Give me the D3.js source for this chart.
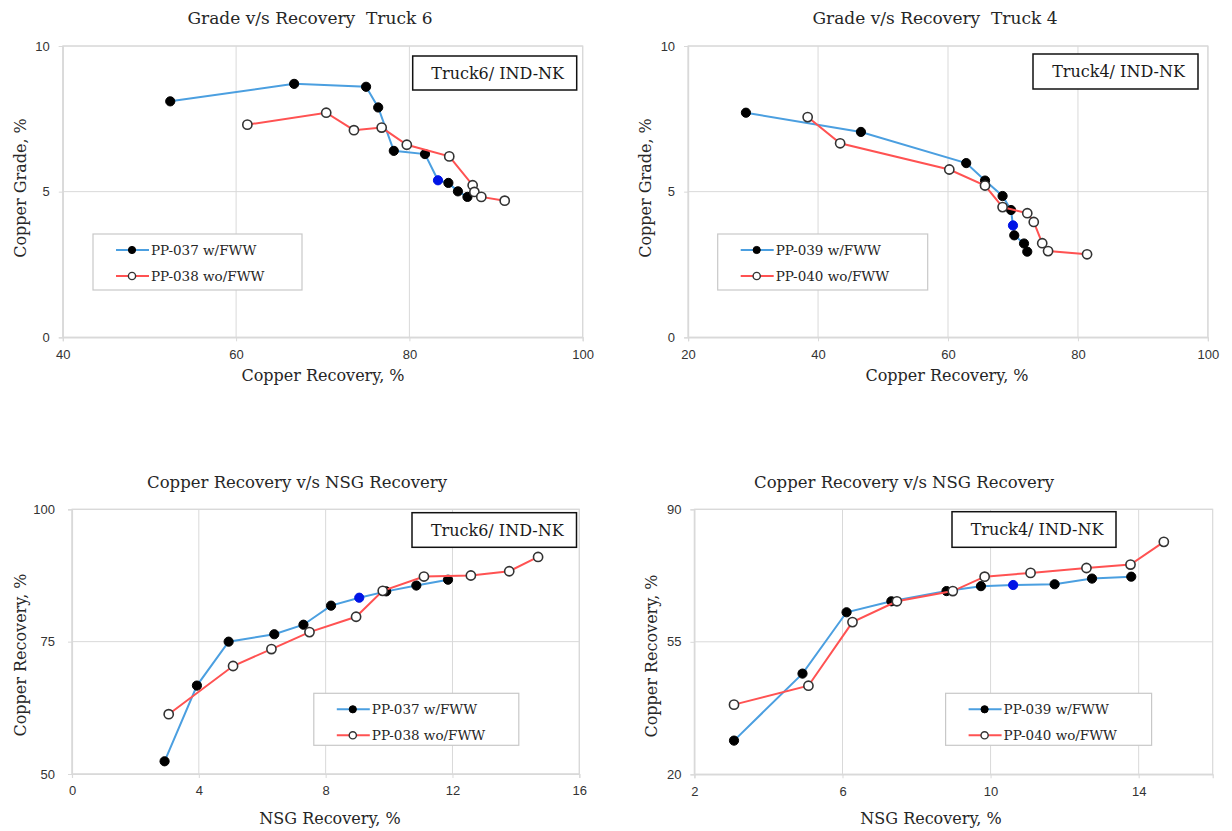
<!DOCTYPE html>
<html>
<head>
<meta charset="utf-8">
<script src="https://cdn.jsdelivr.net/npm/d3@7"></script>
<style>
  body { margin: 0; background: #fff; }
</style>
</head>
<body>
<div id="chart"></div>
<script>
// ===== DATA =====
// Truck 6, PP-037 with FWW
const t6wRecovery = [52.4, 66.7, 75.0, 76.4, 78.2, 81.8, 83.3, 84.5, 85.6, 86.7];
const t6wGrade    = [8.10, 8.70, 8.60, 7.89, 6.40, 6.29, 5.39, 5.30, 5.01, 4.82];
const t6wNsg      = [2.92, 3.94, 4.94, 6.38, 7.30, 8.17, 9.06, 9.91, 10.86, 11.86];
// Truck 6, PP-038 without FWW
const t6woRecovery = [61.3, 70.4, 73.6, 76.8, 79.7, 84.6, 87.3, 87.5, 88.3, 91.0];
const t6woGrade    = [7.30, 7.71, 7.11, 7.20, 6.61, 6.21, 5.22, 4.99, 4.82, 4.69];
const t6woNsg      = [3.05, 5.08, 6.29, 7.49, 8.96, 9.80, 11.10, 12.58, 13.79, 14.70];
// Truck 4, PP-039 with FWW
const t4wRecovery = [28.9, 46.6, 62.8, 65.7, 68.4, 69.7, 70.0, 70.2, 71.7, 72.2];
const t4wGrade    = [7.71, 7.05, 5.98, 5.38, 4.85, 4.37, 3.84, 3.50, 3.22, 2.94];
const t4wNsg      = [3.07, 4.92, 6.11, 7.32, 8.81, 9.74, 10.61, 11.73, 12.74, 13.80];
// Truck 4, PP-040 without FWW
const t4woRecovery = [38.4, 43.4, 60.2, 65.7, 68.4, 72.2, 73.2, 74.5, 75.4, 81.4];
const t4woGrade    = [7.56, 6.66, 5.76, 5.21, 4.47, 4.26, 3.96, 3.23, 2.96, 2.85];
const t4woNsg      = [3.07, 5.08, 6.27, 7.47, 8.98, 9.84, 11.08, 12.59, 13.78, 14.68];

// point drawn in blue in every w/FWW series
const highlightIndex = 6;

const seriesNames = ["PP-037 w/FWW", "PP-038 wo/FWW", "PP-039 w/FWW", "PP-040 wo/FWW"];
const truckLabels = ["Truck6/ IND-NK", "Truck4/ IND-NK"];
const panelTitles = ["Grade v/s Recovery  Truck 6", "Grade v/s Recovery  Truck 4",
                     "Copper Recovery v/s NSG Recovery", "Copper Recovery v/s NSG Recovery"];

const gradeTicks   = [0, 5, 10];
const recTicksT6   = [40, 60, 80, 100];
const recTicksT4   = [20, 40, 60, 80, 100];
const nsgTicksT6   = [0, 4, 8, 12, 16];
const nsgTicksT4   = [2, 6, 10, 14];
const cuRecTicksT6 = [50, 75, 100];
const cuRecTicksT4 = [20, 55, 90];

// ===== STYLE =====
const BLUE = "#4b9fe0";
const RED = "#ff5252";
const GRID = "#d9d9d9";
const SERIF = "'DejaVu Serif', serif";
const SANS = "'Liberation Sans', Arial, sans-serif";

const svg = d3.select("#chart")
    .append("svg")
    .attr("width", 1232)
    .attr("height", 831);

function zip(xs, ys) {
    return xs.map((x, i) => ({ x: x, y: ys[i], i: i }));
}

function drawPanel(p) {
    const x = d3.scaleLinear().domain(p.xDomain).range([p.left, p.right]);
    const y = d3.scaleLinear().domain(p.yDomain).range([p.bottom, p.top]);
    const g = svg.append("g");

    // grid
    g.selectAll(".vgrid").data(p.xTicks).enter().append("line")
        .attr("x1", d => x(d)).attr("x2", d => x(d))
        .attr("y1", p.top).attr("y2", p.bottom)
        .attr("stroke", GRID).attr("stroke-width", 1);
    g.selectAll(".hgrid").data(p.yTicks).enter().append("line")
        .attr("x1", p.left).attr("x2", p.right)
        .attr("y1", d => y(d)).attr("y2", d => y(d))
        .attr("stroke", GRID).attr("stroke-width", 1);
    g.append("rect")
        .attr("x", p.left).attr("y", p.top)
        .attr("width", p.right - p.left).attr("height", p.bottom - p.top)
        .attr("fill", "none").attr("stroke", GRID).attr("stroke-width", 1.2);

    // axes
    const xAxis = g.append("g")
        .attr("transform", `translate(0,${p.bottom})`)
        .call(d3.axisBottom(x).tickValues(p.xTicks).tickSize(4).tickPadding(8).tickFormat(d3.format("d")));
    const yAxis = g.append("g")
        .attr("transform", `translate(${p.left},0)`)
        .call(d3.axisLeft(y).tickValues(p.yTicks).tickSize(4).tickPadding(p.yPad).tickFormat(d3.format("d")));
    [xAxis, yAxis].forEach(a => {
        a.select(".domain").attr("stroke", GRID).attr("stroke-width", 1.2);
        a.selectAll(".tick line").attr("stroke", GRID);
        a.selectAll(".tick text")
            .attr("fill", "#333")
            .style("font-family", SANS)
            .style("font-size", "13px");
    });

    // series: each series draws its line then its markers (Excel order)
    const line = d3.line().x(d => x(d.x)).y(d => y(d.y));
    p.series.forEach(s => {
        const pts = zip(s.xs, s.ys);
        g.append("path")
            .datum(pts)
            .attr("d", line)
            .attr("fill", "none")
            .attr("stroke", s.color)
            .attr("stroke-width", 2);
        g.selectAll(null).data(pts).enter().append("circle")
            .attr("cx", d => x(d.x))
            .attr("cy", d => y(d.y))
            .attr("r", 4.6)
            .attr("fill", d => s.filled ? (d.i === highlightIndex ? "#0014e6" : "#000") : "#fff")
            .attr("stroke", d => s.filled ? (d.i === highlightIndex ? "#0014e6" : "#000") : "#333")
            .attr("stroke-width", s.filled ? 1 : 1.6);
    });

    // titles
    g.append("text")
        .attr("x", p.titlePos[0]).attr("y", p.titlePos[1])
        .attr("text-anchor", "middle").attr("dominant-baseline", "central")
        .attr("xml:space", "preserve")
        .attr("fill", "#262626")
        .style("white-space", "pre")
        .style("font-family", SERIF).style("font-size", p.titleSize + "px")
        .text(p.title);
    g.append("text")
        .attr("x", p.xTitlePos[0]).attr("y", p.xTitlePos[1])
        .attr("text-anchor", "middle").attr("dominant-baseline", "central")
        .attr("fill", "#262626")
        .style("font-family", SERIF).style("font-size", "16px")
        .text(p.xTitle);
    g.append("text")
        .attr("transform", `translate(${p.yTitlePos[0]},${p.yTitlePos[1]}) rotate(-90)`)
        .attr("text-anchor", "middle").attr("dominant-baseline", "central")
        .attr("fill", "#262626")
        .style("font-family", SERIF).style("font-size", "16px")
        .text(p.yTitle);

    // truck label box
    const b = p.labelBox;
    g.append("rect")
        .attr("x", b[0]).attr("y", b[1]).attr("width", b[2]).attr("height", b[3])
        .attr("fill", "#fff").attr("stroke", "#111").attr("stroke-width", 1.5);
    g.append("text")
        .attr("x", b[0] + b[2] / 2 + 3).attr("y", b[1] + b[3] / 2)
        .attr("text-anchor", "middle").attr("dominant-baseline", "central")
        .attr("fill", "#1a1a1a")
        .style("font-family", SERIF).style("font-size", "16px")
        .text(p.label);

    // legend
    const L = p.legendBox;
    g.append("rect")
        .attr("x", L[0]).attr("y", L[1]).attr("width", L[2]).attr("height", L[3])
        .attr("fill", "#fff").attr("stroke", "#c8c8c8").attr("stroke-width", 1.2);
    p.series.forEach((s, k) => {
        const ry = L[1] + 16 + k * 26;
        g.append("line")
            .attr("x1", L[0] + 23).attr("x2", L[0] + 56)
            .attr("y1", ry).attr("y2", ry)
            .attr("stroke", s.color).attr("stroke-width", 2);
        g.append("circle")
            .attr("cx", L[0] + 39).attr("cy", ry).attr("r", 3.6)
            .attr("fill", s.filled ? "#000" : "#fff")
            .attr("stroke", s.filled ? "#000" : "#333")
            .attr("stroke-width", s.filled ? 1 : 1.4);
        g.append("text")
            .attr("x", L[0] + 58).attr("y", ry)
            .attr("dominant-baseline", "central")
            .attr("fill", "#262626")
            .style("font-family", SERIF).style("font-size", "13.5px")
            .text(s.name);
    });
}

const panels = [
    {
        left: 62.8, right: 582.7, top: 46, bottom: 337.3, yPad: 9,
        xDomain: [40, 100], yDomain: [0, 10], xTicks: recTicksT6, yTicks: gradeTicks,
        series: [
            { xs: t6wRecovery, ys: t6wGrade, color: BLUE, filled: true, name: seriesNames[0] },
            { xs: t6woRecovery, ys: t6woGrade, color: RED, filled: false, name: seriesNames[1] }
        ],
        title: panelTitles[0], titlePos: [310, 18], titleSize: 17,
        xTitle: "Copper Recovery, %", xTitlePos: [323, 375],
        yTitle: "Copper Grade, %", yTitlePos: [20, 188],
        label: truckLabels[0], labelBox: [412.7, 56, 164, 34],
        legendBox: [93, 234, 209, 56]
    },
    {
        left: 688.1, right: 1207.9, top: 46, bottom: 337.3, yPad: 9,
        xDomain: [20, 100], yDomain: [0, 10], xTicks: recTicksT4, yTicks: gradeTicks,
        series: [
            { xs: t4wRecovery, ys: t4wGrade, color: BLUE, filled: true, name: seriesNames[2] },
            { xs: t4woRecovery, ys: t4woGrade, color: RED, filled: false, name: seriesNames[3] }
        ],
        title: panelTitles[1], titlePos: [935, 18], titleSize: 17,
        xTitle: "Copper Recovery, %", xTitlePos: [947, 375],
        yTitle: "Copper Grade, %", yTitlePos: [645, 188],
        label: truckLabels[1], labelBox: [1033, 54, 165, 35],
        legendBox: [717.7, 234, 210, 56]
    },
    {
        left: 72, right: 579.3, top: 509.3, bottom: 774, yPad: 13,
        xDomain: [0, 16], yDomain: [50, 100], xTicks: nsgTicksT6, yTicks: cuRecTicksT6,
        series: [
            { xs: t6wNsg, ys: t6wRecovery, color: BLUE, filled: true, name: seriesNames[0] },
            { xs: t6woNsg, ys: t6woRecovery, color: RED, filled: false, name: seriesNames[1] }
        ],
        title: panelTitles[2], titlePos: [297, 482], titleSize: 16.5,
        xTitle: "NSG Recovery, %", xTitlePos: [330, 818],
        yTitle: "Copper Recovery, %", yTitlePos: [20, 655],
        label: truckLabels[0], labelBox: [412, 512.7, 164.5, 34.6],
        legendBox: [313.8, 693.3, 205, 52]
    },
    {
        left: 694.4, right: 1212.7, top: 509.3, bottom: 774.3, yPad: 9,
        xDomain: [2, 16], yDomain: [20, 90], xTicks: nsgTicksT4, yTicks: cuRecTicksT4,
        series: [
            { xs: t4wNsg, ys: t4wRecovery, color: BLUE, filled: true, name: seriesNames[2] },
            { xs: t4woNsg, ys: t4woRecovery, color: RED, filled: false, name: seriesNames[3] }
        ],
        title: panelTitles[3], titlePos: [904, 482], titleSize: 16.5,
        xTitle: "NSG Recovery, %", xTitlePos: [931, 818],
        yTitle: "Copper Recovery, %", yTitlePos: [651, 656],
        label: truckLabels[1], labelBox: [952, 511.7, 164, 35.6],
        legendBox: [945.6, 693.3, 206, 52]
    }
];

panels.forEach(drawPanel);
</script>
</body>
</html>
